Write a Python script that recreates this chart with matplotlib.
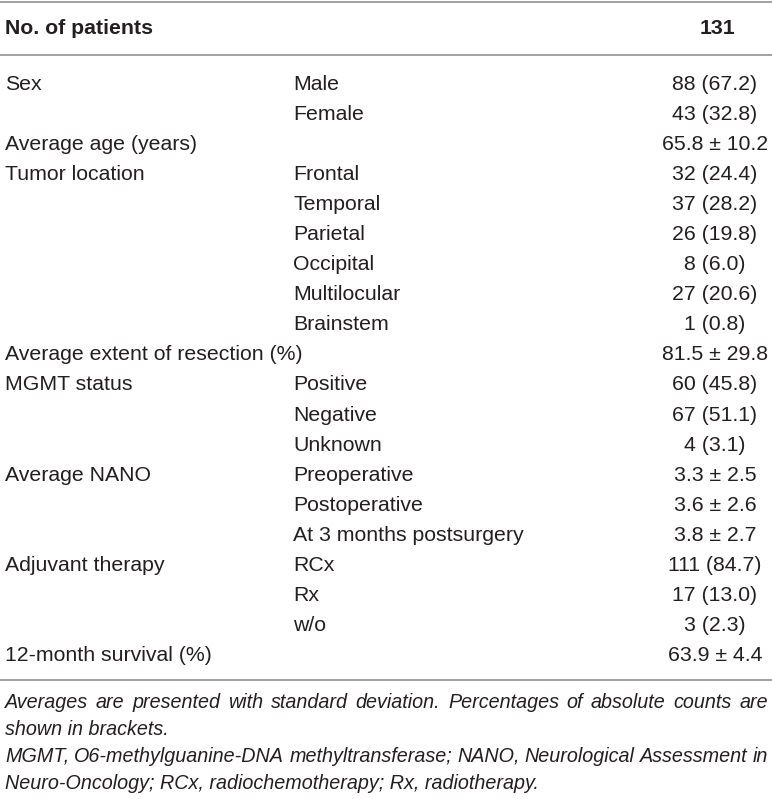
import matplotlib
matplotlib.use("Agg")
import matplotlib.pyplot as plt

plt.rcParams['font.family'] = ['Liberation Sans', 'DejaVu Sans']

# Table content
header_label = "No. of patients"
header_value = "131"

groups = ["Sex", "", "Average age (years)", "Tumor location", "", "", "", "", "",
          "Average extent of resection (%)", "MGMT status", "", "", "Average NANO", "", "",
          "Adjuvant therapy", "", "", "12-month survival (%)"]
subgroups = ["Male", "Female", "", "Frontal", "Temporal", "Parietal", "Occipital",
             "Multilocular", "Brainstem", "", "Positive", "Negative", "Unknown",
             "Preoperative", "Postoperative", "At 3 months postsurgery",
             "RCx", "Rx", "w/o", ""]
values = ["88 (67.2)", "43 (32.8)", "65.8 ± 10.2", "32 (24.4)", "37 (28.2)", "26 (19.8)",
          "8 (6.0)", "27 (20.6)", "1 (0.8)", "81.5 ± 29.8", "60 (45.8)", "67 (51.1)",
          "4 (3.1)", "3.3 ± 2.5", "3.6 ± 2.6", "3.8 ± 2.7", "111 (84.7)", "17 (13.0)",
          "3 (2.3)", "63.9 ± 4.4"]

footnote_lines = [
    ("Averages are presented with standard deviation. Percentages of absolute counts are", True),
    ("shown in brackets.", False),
    ("MGMT, O6-methylguanine-DNA methyltransferase; NANO, Neurological Assessment in", True),
    ("Neuro-Oncology; RCx, radiochemotherapy; Rx, radiotherapy.", False),
]

W, H = 772, 799
fig = plt.figure(figsize=(W / 100, H / 100), dpi=100)
ax = fig.add_axes([0, 0, 1, 1])
ax.set_xlim(0, W)
ax.set_ylim(H, 0)
ax.axis("off")

txt_color = "#231f20"
line_color = "#9a9a9a"
body_size = 15.3
foot_size = 14.2

x_left, x_mid, x_val = 5, 293, 715

# rules
for y in [1.5, 55, 680]:
    ax.plot([0, W], [y, y], color=line_color, linewidth=1.3, solid_capstyle="butt")

# header
ax.text(x_left, 29, header_label, fontsize=body_size, fontweight="bold",
        color=txt_color, va="center", ha="left")
ax.text(x_val + 2, 29, header_value, fontsize=body_size, fontweight="bold",
        color=txt_color, va="center", ha="center")

# body rows
y0, dy = 84, 30.1
for i, (g, s, v) in enumerate(zip(groups, subgroups, values)):
    y = y0 + i * dy
    if g:
        ax.text(x_left, y, g, fontsize=body_size, color=txt_color, va="center", ha="left")
    if s:
        ax.text(x_mid, y, s, fontsize=body_size, color=txt_color, va="center", ha="left")
    ax.text(x_val, y, v, fontsize=body_size, color=txt_color, va="center", ha="center")

# footnote, justified lines spread words over the full width
renderer = fig.canvas.get_renderer()
fy0, fdy = 703, 26.7
x_right = 768
for j, (line, justify) in enumerate(footnote_lines):
    y = fy0 + j * fdy
    if not justify:
        ax.text(x_left, y, line, fontsize=foot_size, style="italic",
                color=txt_color, va="center", ha="left")
        continue
    words = line.split(" ")
    items = []
    total = 0
    for w in words:
        t = ax.text(0, y, w, fontsize=foot_size, style="italic",
                    color=txt_color, va="center", ha="left")
        wd = t.get_window_extent(renderer).width
        items.append((t, wd))
        total += wd
    gap = (x_right - x_left - total) / (len(words) - 1)
    x = x_left
    for t, wd in items:
        t.set_x(x)
        x += wd + gap

fig.savefig("out.png", dpi=100)
